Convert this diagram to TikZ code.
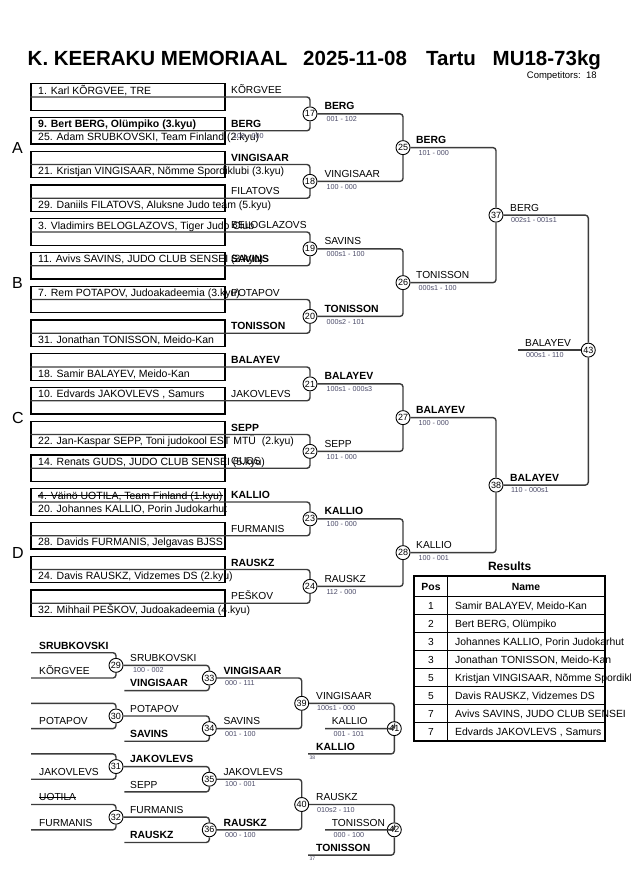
\documentclass[tikz,border=0pt]{standalone}
\usepackage{fontspec}
\setmainfont{Liberation Sans}
\usetikzlibrary{calc}
\definecolor{scol}{RGB}{75,75,105}
\definecolor{lcol}{RGB}{60,60,60}
\begin{document}
\begin{tikzpicture}[x=1pt,y=-1pt,
 ln/.style={line width=1.4pt,draw=lcol,rounded corners=3pt},
 boxst/.style={draw=black,line width=1.1pt,minimum width=194pt,minimum height=26.5pt,inner sep=0pt},
 circ/.style={circle,draw=black,line width=0.9pt,fill=white,minimum size=14pt,inner sep=0pt,font=\fontsize{9}{9}\selectfont},
 ent/.style={anchor=base west,inner sep=0pt,font=\fontsize{10.5}{12}\selectfont},
 entb/.style={anchor=base west,inner sep=0pt,font=\fontsize{10.5}{12}\selectfont\bfseries},
 lb/.style={anchor=base west,inner sep=0pt,font=\fontsize{10.2}{12}\selectfont},
 lbb/.style={anchor=base west,inner sep=0pt,font=\fontsize{10.4}{12}\selectfont\bfseries},
 sc/.style={anchor=base west,inner sep=0pt,font=\fontsize{7.2}{8}\selectfont,text=scol},
 tinyl/.style={anchor=base west,inner sep=0pt,font=\fontsize{5}{5}\selectfont,text=scol},
 pool/.style={anchor=base west,inner sep=0pt,font=\fontsize{16}{18}\selectfont},
 ttl/.style={anchor=base west,inner sep=0pt,font=\fontsize{20.5}{24}\selectfont\bfseries},
 tb/.style={anchor=base,inner sep=0pt,font=\fontsize{10.2}{12}\selectfont},
 tbb/.style={anchor=base,inner sep=0pt,font=\fontsize{10.4}{12}\selectfont\bfseries},
 strk/.style={line width=0.8pt,draw=black},
]
\useasboundingbox[fill=white] (0,0) rectangle (630,891);
% title
\node[ttl] (t1) at (27.5,66) {K. KEERAKU MEMORIAAL};
\node[ttl] (t2) at (303,66) {2025-11-08};
\node[ttl] (t3) at (426,66) {Tartu};
\node[ttl] (t4) at (492.5,66) {MU18-73kg};
\node[anchor=base west,inner sep=0pt,font=\fontsize{9.5}{11}\selectfont] (comp) at (526.7,78.7) {Competitors:\ \ 18};
% pools
\node[pool] (pA) at (12,153.3) {A};
\node[pool] (pB) at (12,288.3) {B};
\node[pool] (pC) at (12,423.3) {C};
\node[pool] (pD) at (12,558.3) {D};
% boxes
\foreach \i in {0,...,15} \node[boxst] (b\i) at (128,{97+33.75*\i}) {};
% circles
\foreach \n in {17,...,24} \node[circ] (m\n) at (310,{113.875+67.5*(\n-17)}) {\n};
\foreach \n in {25,...,28} \node[circ] (m\n) at (403,{147.625+135*(\n-25)}) {\n};
\node[circ] (m37) at (496,215.125) {37};
\node[circ] (m38) at (496,485.125) {38};
\node[circ] (m43) at (588.3,350.125) {43};
% connectors
\foreach \i in {0,...,15}{\pgfmathtruncatemacro\j{17+floor(\i/2)}\draw[ln] (b\i.west) -| (m\j);}
\foreach \a/\b in {17/25,18/25,19/26,20/26,21/27,22/27,23/28,24/28,25/37,26/37,27/38,28/38,37/43,38/43} \draw[ln] (m\a) -| (m\b);
\coordinate (fw) at (518,350.125);
\draw[ln] (fw) -- (m43);
% entries
\node[ent] (e0) at (38,94) {1. Karl KÕRGVEE, TRE};
\node[entb] (e1a) at (38,127.75) {9. Bert BERG, Olümpiko (3.kyu)};
\node[ent] (e1b) at (38,140.75) {25. Adam SRUBKOVSKI, Team Finland (2.kyu)};
\node[ent] (e2) at (38,174.5) {21. Kristjan VINGISAAR, Nõmme Spordiklubi (3.kyu)};
\node[ent] (e3) at (38,208.25) {29. Daniils FILATOVS, Aluksne Judo team (5.kyu)};
\node[ent] (e4) at (38,229) {3. Vladimirs BELOGLAZOVS, Tiger Judo Club};
\node[ent] (e5) at (38,262.75) {11. Avivs SAVINS, JUDO CLUB SENSEI (3.kyu)};
\node[ent] (e6) at (38,296.5) {7. Rem POTAPOV, Judoakadeemia (3.kyu)};
\node[ent] (e7) at (38,343.25) {31. Jonathan TONISSON, Meido-Kan};
\node[ent] (e8) at (38,377) {18. Samir BALAYEV, Meido-Kan};
\node[ent] (e9) at (38,397.75) {10. Edvards JAKOVLEVS , Samurs};
\node[ent] (e10) at (38,444.5) {22. Jan-Kaspar SEPP, Toni judokool EST MTÜ\ \ (2.kyu)};
\node[ent] (e11) at (38,465.25) {14. Renats GUDS, JUDO CLUB SENSEI (5.kyu)};
\node[ent] (e12a) at (38,499) {4. Väinö UOTILA, Team Finland (1.kyu)};
\draw[strk] ($(e12a.base west)+(0,-3.4)$) -- ($(e12a.base east)+(0,-3.4)$);
\node[ent] (e12b) at (38,512) {20. Johannes KALLIO, Porin Judokarhut};
\node[ent] (e13) at (38,545.75) {28. Davids FURMANIS, Jelgavas BJSS};
\node[ent] (e14) at (38,579.5) {24. Davis RAUSKZ, Vidzemes DS (2.kyu)};
\node[ent] (e15) at (38,613.25) {32. Mihhail PEŠKOV, Judoakadeemia (4.kyu)};
% round-1 labels
\foreach \i/\st/\t in {0/lb/KÕRGVEE,1/lbb/BERG,2/lbb/VINGISAAR,3/lb/FILATOVS,4/lb/BELOGLAZOVS,5/lbb/SAVINS,6/lb/POTAPOV,7/lbb/TONISSON,8/lbb/BALAYEV,9/lb/JAKOVLEVS,10/lbb/SEPP,11/lb/GUDS,12/lbb/KALLIO,13/lb/FURMANIS,14/lbb/RAUSKZ,15/lb/PEŠKOV}
  \node[\st] (a\i) at (231,{97+33.75*\i-3.5}) {\t};
\node[sc] (s1x) at (233,138.5) {100 - 000};
% round-2 labels
\foreach \n/\st/\t/\s in {17/lbb/BERG/{001 - 102},18/lb/VINGISAAR/{100 - 000},19/lb/SAVINS/{000s1 - 100},20/lbb/TONISSON/{000s2 - 101},21/lbb/BALAYEV/{100s1 - 000s3},22/lb/SEPP/{101 - 000},23/lbb/KALLIO/{100 - 000},24/lb/RAUSKZ/{112 - 000}}{
  \node[\st] (o\n) at (324.3,{113.875+67.5*(\n-17)-4}) {\t};
  \node[sc] (s\n) at (326.3,{113.875+67.5*(\n-17)+7.8}) {\s};}
\foreach \n/\st/\t/\s in {25/lbb/BERG/{101 - 000},26/lb/TONISSON/{000s1 - 100},27/lbb/BALAYEV/{100 - 000},28/lb/KALLIO/{100 - 001}}{
  \node[\st] (o\n) at (416,{147.625+135*(\n-25)-4}) {\t};
  \node[sc] (s\n) at (418.3,{147.625+135*(\n-25)+7.8}) {\s};}
\node[lb] (o37) at (510,211.1) {BERG};
\node[sc] (s37) at (511,222.9) {002s1 - 001s1};
\node[lbb] (o38) at (510,481.1) {BALAYEV};
\node[sc] (s38) at (511,492.9) {110 - 000s1};
\node[lb] (o43) at (525,346.1) {BALAYEV};
\node[sc] (s43) at (526,357.9) {000s1 - 110};
% ---------- repechage ----------
\node[circ] (m29) at (116,665.35) {29};
\node[circ] (m30) at (116,715.95) {30};
\node[circ] (m31) at (116,766.55) {31};
\node[circ] (m32) at (116,817.15) {32};
\node[circ] (m33) at (209.3,678) {33};
\node[circ] (m34) at (209.3,728.6) {34};
\node[circ] (m35) at (209.3,779.2) {35};
\node[circ] (m36) at (209.3,829.8) {36};
\node[circ] (m39) at (301.7,703.3) {39};
\node[circ] (m40) at (301.7,804.5) {40};
\node[circ] (m41) at (394.3,728.6) {41};
\node[circ] (m42) at (394.3,829.8) {42};
\coordinate (r0) at (31,652.7);
\coordinate (r1) at (31,678);
\coordinate (r2) at (31,703.3);
\coordinate (r3) at (31,728.6);
\coordinate (r4) at (31,753.9);
\coordinate (r5) at (31,779.2);
\coordinate (r6) at (31,804.5);
\coordinate (r7) at (31,829.8);
\coordinate (q33) at (124.3,690.65);
\coordinate (q34) at (124.3,741.25);
\coordinate (q35) at (124.3,791.85);
\coordinate (q36) at (124.3,842.45);
\coordinate (q41) at (308,753.9);
\coordinate (q42) at (308,855.1);
\coordinate (w41) at (325,728.6);
\coordinate (w42) at (325,829.8);
\foreach \a/\b in {r0/m29,r1/m29,r2/m30,r3/m30,r4/m31,r5/m31,r6/m32,r7/m32,m29/m33,q33/m33,m30/m34,q34/m34,m31/m35,q35/m35,m32/m36,q36/m36,m33/m39,m34/m39,m35/m40,m36/m40,m39/m41,q41/m41,m40/m42,q42/m42,w41/m41,w42/m42}
  \draw[ln] (\a) -| (\b);
% repechage labels
\node[lbb] (x0) at (39,649) {SRUBKOVSKI};
\node[lb] (x2) at (39,674.3) {KÕRGVEE};
\node[lb] (x6) at (39,724.9) {POTAPOV};
\node[lb] (x10) at (39,775.5) {JAKOVLEVS};
\node[lb] (x12) at (39,800.8) {UOTILA};
\draw[strk] ($(x12.base west)+(0,-3.4)$) -- ($(x12.base east)+(0,-3.4)$);
\node[lb] (x14) at (39,826.1) {FURMANIS};
\node[lb] (y1) at (130,661.65) {SRUBKOVSKI};
\node[sc] (z1) at (133,672.85) {100 - 002};
\node[lbb] (y3) at (130,686.95) {VINGISAAR};
\node[lb] (y5) at (130,712.25) {POTAPOV};
\node[lbb] (y7) at (130,737.55) {SAVINS};
\node[lbb] (y9) at (130,762.85) {JAKOVLEVS};
\node[lb] (y11) at (130,788.15) {SEPP};
\node[lb] (y13) at (130,813.45) {FURMANIS};
\node[lbb] (y15) at (130,838.75) {RAUSKZ};
\node[lbb] (v2) at (223.3,674.3) {VINGISAAR};
\node[sc] (u2) at (225,685.5) {000 - 111};
\node[lb] (v6) at (223.3,724.9) {SAVINS};
\node[sc] (u6) at (225,736.1) {001 - 100};
\node[lb] (v10) at (223.3,775.5) {JAKOVLEVS};
\node[sc] (u10) at (225,786.7) {100 - 001};
\node[lbb] (v14) at (223.3,826.1) {RAUSKZ};
\node[sc] (u14) at (225,837.3) {000 - 100};
\node[lb] (f4) at (316,699.6) {VINGISAAR};
\node[sc] (g4) at (317,710.8) {100s1 - 000};
\node[lbb] (f8) at (316,750.2) {KALLIO};
\node[tinyl] (h8) at (309.3,759.6) {38};
\node[lb] (f12) at (316,800.8) {RAUSKZ};
\node[sc] (g12) at (317,812) {010s2 - 110};
\node[lbb] (f16) at (316,851.4) {TONISSON};
\node[tinyl] (h16) at (309.3,860.8) {37};
\node[lb] (k41) at (331.7,724.9) {KALLIO};
\node[sc] (l41) at (333.5,736.1) {001 - 101};
\node[lb] (k42) at (331.7,826.1) {TONISSON};
\node[sc] (l42) at (333.5,837.3) {000 - 100};
% ---------- results ----------
\node[anchor=base,inner sep=0pt,font=\fontsize{12}{14}\selectfont\bfseries] (res) at (509.7,570) {Results};
\foreach \k in {1,...,7} \draw[line width=0.8pt] (414.3,{596.7+17.95*\k}) -- (605,{596.7+17.95*\k});
\draw[line width=0.8pt] (414.3,596.7) -- (605,596.7);
\draw[line width=0.8pt] (447.3,575.7) -- (447.3,740.7);
\draw[line width=2pt] (414.3,575.7) rectangle (605,740.7);
\node[tbb] (hp) at (431,590.5) {Pos};
\node[tbb] (hn) at (526,590.5) {Name};
\foreach \k/\p/\t in {1/1/{Samir BALAYEV, Meido-Kan},2/2/{Bert BERG, Olümpiko},3/3/{Johannes KALLIO, Porin Judokarhut},4/3/{Jonathan TONISSON, Meido-Kan},5/5/{Kristjan VINGISAAR, Nõmme Spordiklubi},6/5/{Davis RAUSKZ, Vidzemes DS},7/7/{Avivs SAVINS, JUDO CLUB SENSEI},8/7/{Edvards JAKOVLEVS , Samurs}}{
  \node[tb] (rp\k) at (431,{596.7+17.95*(\k-1)+13}) {\p};
  \node[anchor=base west,inner sep=0pt,font=\fontsize{10.4}{12}\selectfont] (rn\k) at (455,{596.7+17.95*(\k-1)+13}) {\t};}
\end{tikzpicture}
\end{document}
